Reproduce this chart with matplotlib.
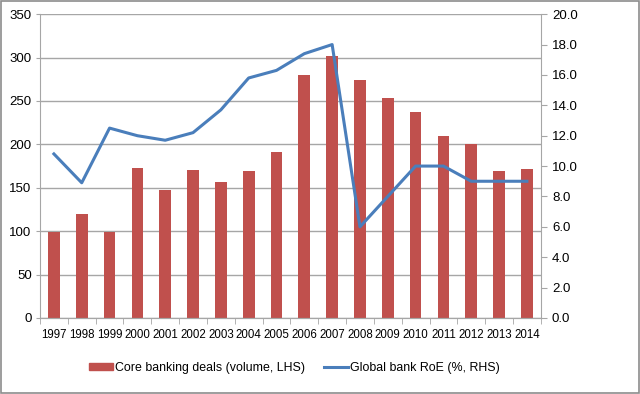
import matplotlib
matplotlib.use('Agg')
import matplotlib.pyplot as plt
from matplotlib.patches import Rectangle
from matplotlib.lines import Line2D
from matplotlib.patches import Patch

plt.rcParams['font.family'] = ['Liberation Sans', 'DejaVu Sans']

years = ['1997', '1998', '1999', '2000', '2001', '2002', '2003', '2004', '2005',
         '2006', '2007', '2008', '2009', '2010', '2011', '2012', '2013', '2014']
deals = [99, 120, 99, 173, 148, 170, 157, 169, 191,
         280, 302, 274, 253, 237, 210, 201, 169, 172]
roe = [10.8, 8.9, 12.5, 12.0, 11.7, 12.2, 13.7, 15.8, 16.3,
       17.4, 18.0, 6.0, 8.0, 10.0, 10.0, 9.0, 9.0, 9.0]

BAR_COLOR = '#C0504D'
LINE_COLOR = '#4A7EBB'
GRID = '#A6A6A6'

fig = plt.figure(figsize=(6.4, 3.94), dpi=100)
ax = fig.add_axes([0.0625, 0.193, 0.7825, 0.771])
ax2 = ax.twinx()

x = list(range(len(years)))
ax.bar(x, deals, width=0.42, color=BAR_COLOR, zorder=2)
ax2.plot(x, roe, color=LINE_COLOR, lw=2.2, zorder=3)

ax.set_xlim(-0.5, len(years) - 0.5)
ax.set_ylim(0, 350)
ax.set_yticks(range(0, 351, 50))
ax2.set_ylim(0, 20)
ax2.set_yticks([i * 2 for i in range(11)])
ax2.set_yticklabels(['%.1f' % (i * 2) for i in range(11)])

ax.yaxis.grid(True, color=GRID, lw=1)
ax.set_axisbelow(True)

ax.set_xticks(x)
ax.set_xticklabels(years, fontsize=8.3)
ax.set_xticks([i - 0.5 for i in range(len(years) + 1)], minor=True)
ax.tick_params(axis='x', which='major', length=0, pad=8)
ax.tick_params(axis='x', which='minor', length=4, color=GRID, direction='out')
ax.tick_params(axis='y', length=3, color=GRID, labelsize=9.5, pad=3)
ax2.tick_params(axis='y', length=4, color=GRID, labelsize=9.5, pad=4)

for a in (ax, ax2):
    a.spines['top'].set_visible(False)
    for s in ('left', 'right', 'bottom'):
        a.spines[s].set_color(GRID)
ax2.spines['left'].set_visible(False)
ax.spines['right'].set_visible(False)

handles = [Patch(color=BAR_COLOR), Line2D([], [], color=LINE_COLOR, lw=2.2)]
labels = ['Core banking deals (volume, LHS)', 'Global bank RoE (%, RHS)']
fig.legend(handles, labels, loc='center', bbox_to_anchor=(0.46, 0.066), ncol=2,
           frameon=False, fontsize=8.9, handlelength=1.9, handleheight=0.55,
           handletextpad=0.15, columnspacing=1.6)

fig.patches.append(Rectangle((0.002, 0.003), 0.996, 0.994, transform=fig.transFigure,
                             fill=False, edgecolor='#8C8C8C', lw=1.2))

fig.savefig('out.png', dpi=100, facecolor='white')
